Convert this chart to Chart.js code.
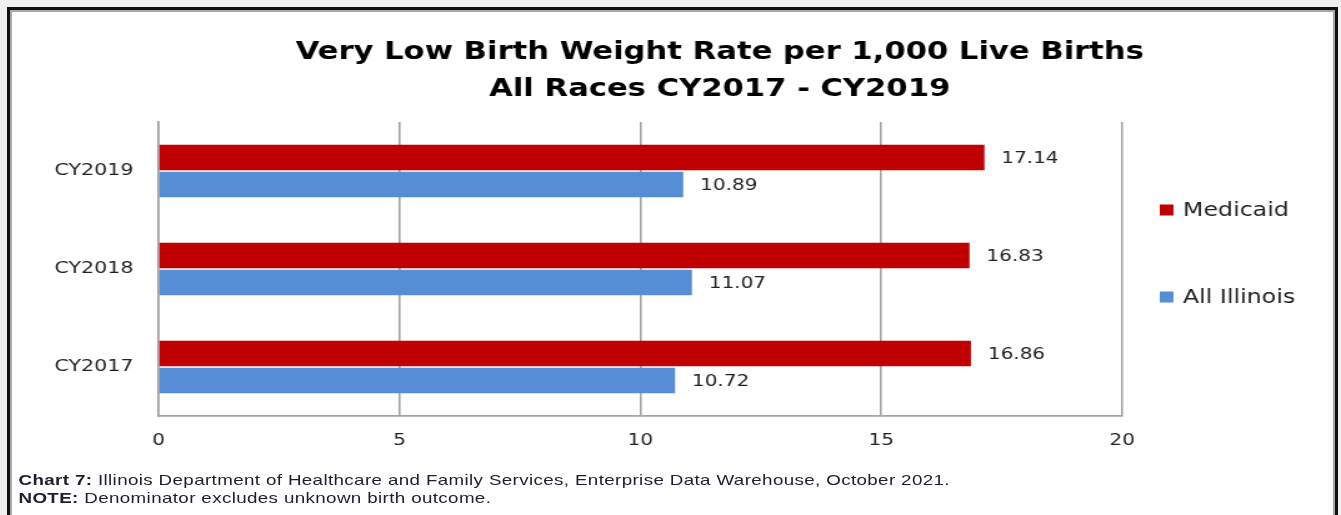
<!DOCTYPE html>
<html>
<head>
<meta charset="utf-8">
<script src="https://cdn.jsdelivr.net/npm/chart.js@4.4.1/dist/chart.umd.min.js"></script>
<style>
  html, body { margin: 0; padding: 0; background: #f0f0f0; width: 1341px; height: 515px; overflow: hidden; }
  #frame { position: absolute; left: 7px; top: 7px; width: 1325px; height: 540px; border: 3px solid #111; background: #fff; box-shadow: inset 0 0 0 2px #a8a8a8; }
  #wrap { position: absolute; left: 11px; top: 11px; width: 1059px; height: 504px; transform: scaleX(1.25); transform-origin: 0 0; }
  #c { position: absolute; left: 0; top: 0; }
  .foot { position: absolute; left: 6px; font-family: "Liberation Sans", Arial, sans-serif; font-size: 15px; letter-spacing: 0.3px; color: #1e1e2e; white-space: nowrap; line-height: 16px; }
  .foot b { font-weight: bold; }
</style>
</head>
<body>
<div id="frame"></div>
<div id="wrap">
  <canvas id="c" width="1059" height="504" style="width:1059px;height:504px"></canvas>
  <div class="foot" style="top:461px"><b>Chart 7:</b> Illinois Department of Healthcare and Family Services, Enterprise Data Warehouse, October 2021.</div>
  <div class="foot" style="top:479px"><b>NOTE:</b> Denominator excludes unknown birth outcome.</div>
</div>
<script>
const titleLines = ['Very Low Birth Weight Rate per 1,000 Live Births', 'All Races CY2017 - CY2019'];
const categories = ['CY2019', 'CY2018', 'CY2017'];
const seriesNames = ['Medicaid', 'All Illinois'];
const medicaid = [17.14, 16.83, 16.86];
const allIllinois = [10.89, 11.07, 10.72];
const xTickValues = [0, 5, 10, 15, 20];
const seriesColors = ['#C00000', '#558ED5'];

const TEXT = '#222222';
const GRID = '#a3a3a3';

const overlay = {
  id: 'overlay',
  afterDraw(chart) {
    const ctx = chart.ctx;
    ctx.save();
    // title
    ctx.fillStyle = '#000';
    ctx.font = 'bold 24.5px "DejaVu Sans", sans-serif';
    ctx.textAlign = 'center';
    ctx.textBaseline = 'middle';
    ctx.fillText(titleLines[0], 567, 41.5);
    ctx.fillText(titleLines[1], 567, 78.5);
    // data labels
    ctx.font = '16px "DejaVu Sans", sans-serif';
    ctx.fillStyle = TEXT;
    ctx.textAlign = 'left';
    chart.data.datasets.forEach((ds, i) => {
      const meta = chart.getDatasetMeta(i);
      meta.data.forEach((el, j) => {
        ctx.fillText(ds.data[j].toFixed(2), el.x + 13.5, el.y + 1);
      });
    });
    // legend
    ctx.font = '19px "DejaVu Sans", sans-serif';
    const legendY = [199, 286];
    chart.data.datasets.forEach((ds, i) => {
      const y = legendY[i];
      ctx.fillStyle = ds.backgroundColor;
      ctx.fillRect(919, y - 5.5, 11, 11);
      ctx.fillStyle = TEXT;
      ctx.fillText(ds.label, 937.5, y + 1);
    });
    ctx.restore();
  }
};

new Chart(document.getElementById('c'), {
  type: 'bar',
  data: {
    labels: categories,
    datasets: [
      { label: seriesNames[0], data: medicaid, backgroundColor: seriesColors[0], borderWidth: 0,
        categoryPercentage: 0.55, barPercentage: 0.95 },
      { label: seriesNames[1], data: allIllinois, backgroundColor: seriesColors[1], borderWidth: 0,
        categoryPercentage: 0.55, barPercentage: 0.95 }
    ]
  },
  options: {
    indexAxis: 'y',
    responsive: false,
    animation: false,
    devicePixelRatio: 1,
    layout: { padding: { left: 0, right: 170, top: 111, bottom: 59 } },
    plugins: { legend: { display: false }, title: { display: false }, tooltip: { enabled: false } },
    scales: {
      x: {
        min: 0, max: 20,
        afterBuildTicks(scale) { scale.ticks = xTickValues.map(v => ({ value: v })); },
        afterFit(scale) { scale.height = 40; },
        grid: { color: GRID, lineWidth: 1.6, drawTicks: false },
        border: { display: true, color: GRID, width: 1.8 },
        ticks: { padding: 15, color: TEXT, font: { family: '"DejaVu Sans", sans-serif', size: 16 } }
      },
      y: {
        afterFit(scale) { scale.width = 118; },
        grid: { display: false, drawTicks: false },
        border: { display: true, color: GRID, width: 1.6 },
        ticks: { padding: 20, color: TEXT, font: { family: '"DejaVu Sans", sans-serif', size: 16.5 } }
      }
    }
  },
  plugins: [overlay]
});
</script>
</body>
</html>
